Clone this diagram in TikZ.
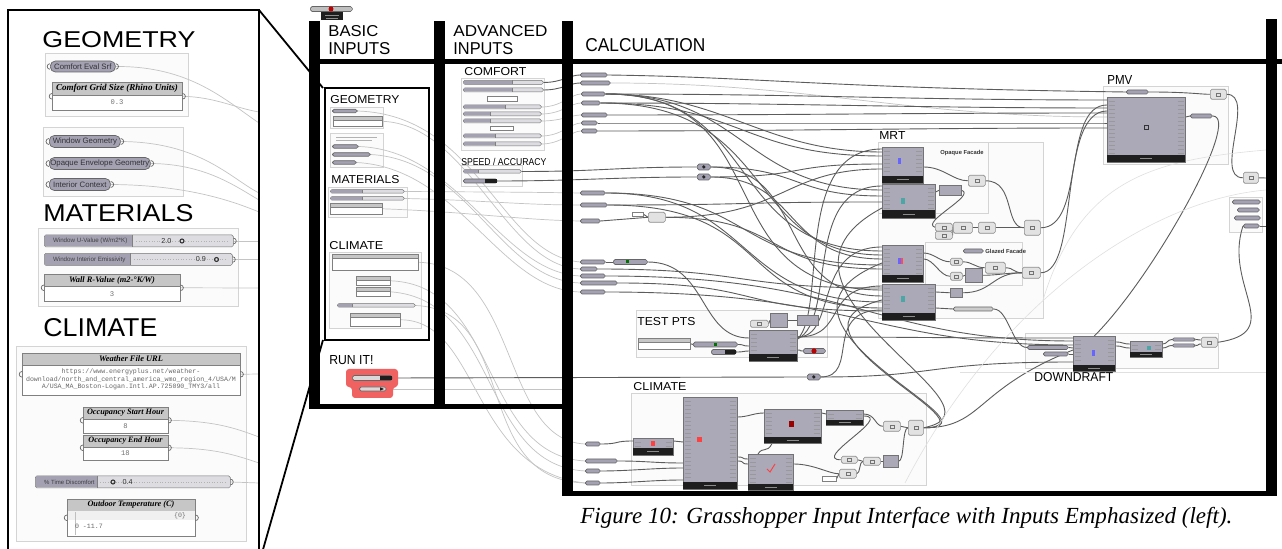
\documentclass[tikz,border=0pt]{standalone}
\usepackage{fontspec}
\setmainfont{Liberation Serif}
\setsansfont{Liberation Sans}
\setmonofont{Liberation Mono}
\usetikzlibrary{calc}
\pgfdeclarelayer{grp}
\pgfdeclarelayer{wire}
\pgfsetlayers{grp,wire,main}

\definecolor{compfill}{HTML}{ABA9B8}
\definecolor{pillfill}{HTML}{A3A1B2}
\definecolor{slidelight}{HTML}{DDDDE1}
\definecolor{panelhead}{HTML}{C6C6C6}
\definecolor{grpline}{HTML}{D4D4D4}
\definecolor{grpfill}{HTML}{FBFBFB}
\definecolor{wiredark}{HTML}{5C5C5C}
\definecolor{wirelight}{HTML}{C4C4C4}
\definecolor{runred}{HTML}{F06262}
\definecolor{footer}{HTML}{1E1E1E}
\definecolor{utilfill}{HTML}{E2E2E2}

\newcommand\fs[1]{\fontsize{#1}{#1}\selectfont}

\tikzset{
  comp/.style={draw=black!55,fill=compfill,line width=0.3pt,inner sep=0},
  util/.style={draw=black!45,fill=utilfill,line width=0.3pt,rounded corners=0.8pt,inner sep=0},
  pill/.style={draw=black!60,fill=pillfill,line width=0.3pt,rounded corners=0.9pt,inner sep=0},
  bigpill/.style={draw=black!60,fill=pillfill,line width=0.35pt,rounded corners=2.5pt,inner sep=0,font=\sffamily\fs{3.9},text=black!80},
  slide/.style={draw=black!55,fill=slidelight,line width=0.25pt,rounded corners=0.8pt,inner sep=0},
  panelbody/.style={draw=black!50,fill=white,line width=0.3pt,inner sep=0},
  group/.style={draw=grpline,fill=grpfill,line width=0.4pt},
  compline/.style={draw=black!40,line width=0.2pt},
  gripline/.style={draw=black!60,line width=0.35pt},
  wd/.style={draw=wiredark,line width=0.45pt},
  wl/.style={draw=wirelight,line width=0.35pt},
  wf/.style={draw=black!12,line width=0.3pt},
  wall/.style={fill=black},
  frame/.style={draw=black,line width=1pt},
}

% section title squeezed into a box of given width and cap height (pt)
\newcommand\hdr[6]{\node[anchor=base west,inner sep=0] (#1) at (#2,#3) {\resizebox{#4pt}{#5pt}{\sffamily #6}};}
% component: name, left, top, right, bottom, footer height
\newcommand\ghcomp[6]{%
  \node[comp,anchor=north west,minimum width={(#4-#2)*0.5pt},minimum height={(#5-#3)*0.5pt}] (#1) at (#2,#3) {};
  \fill[footer] (#2,#5-#6) rectangle (#4,#5);
  \draw[black!45,line width=0.2pt] ({(#2+#4)/2-6},#5-#6/2) -- ++(12,0);
  \pgfmathtruncatemacro\nrows{(#5-#6-#3-2)/4}%
  \ifnum\nrows>0
    \foreach \k in {1,...,\nrows}{%
      \draw[compline] (#2+1.5,#3+\k*4) -- ++(6,0);
      \draw[compline] (#4-7.5,#3+\k*4) -- ++(6,0);
    }%
  \fi
}
% plain box: name, style, left, top, right, bottom
\newcommand\ghbox[6]{%
  \node[#2,anchor=north west,minimum width={(#5-#3)*0.5pt},minimum height={(#6-#4)*0.5pt}] (#1) at (#3,#4) {};}
\newcommand\ghutil[5]{%
  \ghbox{#1}{util}{#2}{#3}{#4}{#5}
  \draw[black!55,line width=0.25pt] ($(#1.center)+(-2,-1.5)$) rectangle ($(#1.center)+(2,1.5)$);}
% parameter pill: name, left, right, mid y, height
\newcommand\ghpill[5]{%
  \node[pill,anchor=west,minimum width={(#3-#2)*0.5pt},minimum height={#5*0.5pt}] (#1) at (#2,#4) {};}
% number slider: name, left, right, label end, mid y, height
\newcommand\ghslide[6]{%
  \node[slide,anchor=west,minimum width={(#3-#2)*0.5pt},minimum height={#6*0.5pt}] (#1) at (#2,#5) {};
  \fill[pillfill] ([xshift=0.3pt,yshift=-0.3pt]#1.north west) rectangle (#4,#5+#6/2-0.6);
  \draw[black!50,line width=0.2pt] (#4,#5-#6/2) -- (#4,#5+#6/2);}
% panel with title: name, left, top, right, bottom, header bottom, title, title width (pt)
\newcommand\ghpanel[8]{%
  \node[panelbody,anchor=north west,minimum width={(#4-#2)*0.5pt},minimum height={(#5-#3)*0.5pt}] (#1) at (#2,#3) {};
  \filldraw[fill=panelhead,draw=black!50,line width=0.3pt] (#2,#3) rectangle (#4,#6);
  \node[inner sep=0] at ({(#2+#4)/2},{(#3+#6)/2}) {\resizebox{#8pt}{!}{\bfseries\itshape #7}};}
\newcommand\ghpanelmini[6]{%
  \node[panelbody,anchor=north west,minimum width={(#4-#2)*0.5pt},minimum height={(#5-#3)*0.5pt}] (#1) at (#2,#3) {};
  \filldraw[fill=panelhead,draw=black!50,line width=0.2pt] (#2,#3) rectangle (#4,#6);}
\newcommand\grips[2]{%
  \draw[gripline] ([yshift=#2]#1.west) arc[start angle=90,end angle=270,radius=#2];
  \draw[gripline] ([yshift=#2]#1.east) arc[start angle=90,end angle=-90,radius=#2];}
\newcommand\rgrip[2]{%
  \draw[gripline] ([yshift=#2]#1.east) arc[start angle=90,end angle=-90,radius=#2];}
% relay dot
\newcommand\ghrelay[3]{%
  \node[pill,anchor=west,minimum width=6.5pt,minimum height=3pt] (#1) at (#2,#3) {};
  \fill[black!85] (#1.center) circle (0.9pt);}

\begin{document}
\begin{tikzpicture}[x=0.5pt,y=-0.5pt]
\useasboundingbox (0,0) rectangle (1282,549);

% ================= page and groups =================
\begin{pgfonlayer}{grp}
\fill[white] (0,0) rectangle (1282,549);
\draw[group] (45,53) rectangle (188,116);
\draw[group] (43,127) rectangle (183,196);
\draw[group] (38,228) rectangle (238,306);
\draw[group] (16,346) rectangle (246,541);
\draw[group] (330,107) rectangle (383,128);
\draw[group] (330,133) rectangle (383,167);
\draw[group] (328,187) rectangle (407,217);
\draw[group] (329,252) rectangle (421,328);
\draw[group] (461,78) rectangle (544,150);
\draw[group] (461,165) rectangle (522,186);
\draw[group] (878,142) rectangle (1043,318);
\draw[group] (878,142) rectangle (988,213);
\draw[group] (925,242) rectangle (1022,285);
\draw[group] (1103,86) rectangle (1228,164);
\draw[group] (636,310) rectangle (827,357);
\draw[group] (631,393) rectangle (926,485);
\draw[group] (1025,333) rectangle (1218,368);
\draw[group] (1229,197) rectangle (1262,232);
\end{pgfonlayer}

% ================= emphasized inputs =================
\node[bigpill,anchor=west,minimum width=32.5pt,minimum height=5.5pt] (ces) at (50,66.5) {Comfort Eval Srf};
\grips{ces}{1.4pt}
\ghpanel{cgs}{52}{82}{182}{110}{95}{Comfort Grid Size (Rhino Units)}{61}
\node[font=\ttfamily\fs{3.6},text=black!55] at (117,102.5) {0.3};
\grips{cgs}{1.4pt}
\node[bigpill,anchor=west,minimum width=35.5pt,minimum height=6pt] (wg) at (49,141.5) {Window Geometry};
\grips{wg}{1.5pt}
\node[bigpill,anchor=west,minimum width=50.5pt,minimum height=6pt] (oeg) at (49,163.5) {Opaque Envelope Geometry};
\grips{oeg}{1.5pt}
\node[bigpill,anchor=west,minimum width=30.5pt,minimum height=6pt] (ic) at (49,184.5) {Interior Context};
\grips{ic}{1.5pt}

\ghslide{su}{44}{233}{132}{241}{12}
\node[anchor=west,font=\sffamily\fs{3.1},text=black!75] at (46,241) {Window U-Value (W/m2*K)};
\draw[black!30,densely dotted,line width=0.3pt] (136,241) -- (228,241);
\node[anchor=east,font=\sffamily\fs{3.6},text=black!80] at (178.5,241) {2.0};
\draw[black!80,line width=0.55pt] (182,241) circle (1pt);
\rgrip{su}{1.4pt}
\ghslide{se}{44}{232}{130}{259.5}{12}
\node[anchor=west,font=\sffamily\fs{3.1},text=black!75] at (46,259.5) {Window Interior Emissivity};
\draw[black!30,densely dotted,line width=0.3pt] (134,259.5) -- (227,259.5);
\node[anchor=east,font=\sffamily\fs{3.6},text=black!80] at (213,259.5) {0.9};
\draw[black!80,line width=0.55pt] (216.5,259.5) circle (1pt);
\rgrip{se}{1.4pt}
\ghpanel{wallr}{44}{274}{180}{301}{286}{Wall R-Value (m2-°K/W)}{43}
\node[font=\ttfamily\fs{3.6},text=black!55] at (112,294) {3};
\grips{wallr}{1.4pt}

\ghpanel{weather}{22}{353}{240}{395}{365}{Weather File URL}{32}
\node[font=\ttfamily\fs{3.3},text=black!60] at (131,372) {https://www.energyplus.net/weather-};
\node[font=\ttfamily\fs{3.3},text=black!60] at (131,379.5) {download/north\_and\_central\_america\_wmo\_region\_4/USA/M};
\node[font=\ttfamily\fs{3.3},text=black!60] at (131,387) {A/USA\_MA\_Boston-Logan.Intl.AP.725090\_TMY3/all};
\grips{weather}{1.4pt}
\ghpanel{occs}{83}{407}{168}{433}{419}{Occupancy Start Hour}{38.5}
\node[font=\ttfamily\fs{3.6},text=black!55] at (125.5,426.5) {8};
\grips{occs}{1.4pt}
\ghpanel{occe}{83}{435}{168}{460}{447}{Occupancy End Hour}{37}
\node[font=\ttfamily\fs{3.6},text=black!55] at (125.5,453.5) {18};
\grips{occe}{1.4pt}
\ghslide{tdis}{35}{230}{97}{482}{12}
\node[anchor=west,font=\sffamily\fs{3.0},text=black!75] at (37,482) {\% Time Discomfort};
\draw[black!30,densely dotted,line width=0.3pt] (100,482) -- (225,482);
\draw[black!80,line width=0.55pt] (113,482) circle (1pt);
\node[anchor=west,font=\sffamily\fs{3.6},text=black!80] at (115.5,482) {0.4};
\rgrip{tdis}{1.4pt}
\ghpanel{otemp}{67}{499}{195}{536}{511}{Outdoor Temperature (C)}{43.5}
\fill[black!6] (67.5,511.5) rectangle (194.5,520);
\draw[black!25,line width=0.3pt] (75,512) -- (75,535);
\node[anchor=east,font=\ttfamily\fs{3.3},text=black!55] at (193,515.5) {\{0\}};
\node[anchor=west,font=\ttfamily\fs{3.3},text=black!60] at (68,526) {0 -11.7};
\grips{otemp}{1.4pt}

% ================= basic inputs (small) =================
\ghpill{mp1}{332}{357}{111}{3.5}
\ghpanelmini{mq1}{333}{116}{382}{126}{120}
\draw[black!30,line width=0.4pt] (336,137) -- (377,137) (336,140.5) -- (372,140.5);
\ghpill{mp2}{332}{358}{146.5}{3.5}
\ghpill{mp3}{332}{370}{154.5}{3.5}
\ghpill{mp4}{332}{356}{162.5}{3.5}
\ghslide{ms1}{330}{404}{362}{191.5}{3.5}
\ghslide{ms2}{330}{404}{362}{198.5}{3.5}
\ghpanelmini{mq2}{330}{203}{382}{214}{207}
\ghpanelmini{mq3}{332}{254}{418}{270}{258}
\ghpanelmini{mq4}{356}{276}{390}{285}{280}
\ghpanelmini{mq5}{356}{287}{390}{296}{291}
\ghslide{ms3}{337}{415}{352}{305.5}{3.5}
\ghpanelmini{mq6}{350}{313}{400}{326}{317}

% run toggle
\fill[runred,rounded corners=1.5pt] (346,369) -- (398,369) -- (398,387) -- (393,387) -- (393,398) -- (352,398) -- (352,387) -- (346,387) -- cycle;
\node[pill,anchor=west,minimum width=20pt,minimum height=2.5pt,fill=black!15] (rt) at (352,378) {};
\fill[footer] (380,376.2) rectangle (392,379.8);
\node[pill,anchor=west,minimum width=13.5pt,minimum height=2pt,fill=black!15] (rb) at (359,389) {};
\fill[footer] (380,387.3) -- (384,389) -- (380,390.7) -- cycle;

% ================= advanced inputs =================
\ghslide{as1}{463}{543}{512}{82.5}{4}
\ghslide{as2}{463}{543}{512}{90}{4}
\draw[black!50,fill=white,line width=0.2pt] (487,96) rectangle (517,101);
\ghslide{as3}{463}{541}{505}{107}{4}
\ghslide{as4}{463}{541}{490}{114}{4}
\ghslide{as5}{463}{541}{490}{121}{4}
\draw[black!50,fill=white,line width=0.2pt] (490,126) rectangle (513,130);
\ghslide{as6}{463}{541}{495}{136}{4}
\ghslide{as7}{463}{541}{495}{144}{4}
\ghslide{sp1}{463}{521}{478}{171.5}{3.5}
\ghpill{sp2}{463}{497}{181}{4}
\fill[footer] (485,179.2) rectangle (497,182.8);

% ================= calculation =================
\ghpill{pA}{580}{607}{75}{4}
\ghpill{pB}{580}{610}{83}{4}
\ghpill{pC}{581}{605}{94}{4}
\ghpill{pD}{581}{600}{103}{4}
\ghpill{pE}{581}{607}{115}{4}
\ghpill{pF}{581}{597}{123}{4}
\ghpill{pG}{581}{597}{131}{4}
\ghpill{pH}{580}{605}{193}{4}
\ghpill{pI}{580}{607}{205}{4}
\ghpill{pJ}{580}{600}{221}{4}
\ghpill{pK}{580}{605}{262}{4}
\ghpill{pL}{580}{597}{269}{4}
\ghpill{pM}{580}{605}{276}{4}
\ghpill{pN}{580}{617}{283}{4}
\ghpill{pO}{580}{605}{292}{4}
\ghpill{pP}{585}{600}{444}{4}
\ghpill{pQ}{585}{617}{461}{4}
\ghpill{pR}{585}{600}{471}{4}
\ghpill{pS}{585}{600}{483}{4}

\ghrelay{c1}{697}{167}
\ghrelay{c2}{697}{177}
\ghrelay{c3}{807}{377}

\ghbox{jn}{panelbody}{632}{212}{643}{216}
\ghbox{jc}{util}{648}{212}{665}{222}
\ghpill{kc}{613}{647}{262}{5}
\fill[green!45!black] (626,260.5) rectangle (629,263.5);

% MRT
\ghcomp{mrt1}{882}{147}{923}{183}{7}
\ghcomp{mrt2}{882}{184}{935}{218}{8}
\ghcomp{mrt3}{882}{245}{923}{282}{7}
\ghcomp{mrt4}{882}{284}{935}{320}{7}
\fill[blue!60] (898,158) rectangle (901,164);
\fill[teal!70] (901,198) rectangle (905,204);
\fill[blue!60] (898,258) rectangle (901,264);
\fill[red!70] (901,258) rectangle (903,264);
\fill[teal!70] (901,296) rectangle (905,302);
\ghbox{u1}{comp}{939}{185}{961}{195}
\ghutil{u2}{968}{175}{985}{186}
\ghutil{u3}{935}{223}{952}{231}
\ghutil{u3b}{935}{231}{952}{239}
\ghutil{u4}{953}{222}{972}{233}
\ghutil{u5}{978}{222}{995}{233}
\ghutil{u6}{1024}{220}{1040}{235}
\ghutil{u7}{950}{258}{962}{265}
\ghutil{u8}{950}{272}{962}{280}
\ghbox{u9}{comp}{965}{268}{982}{282}
\ghutil{u10}{985}{262}{1005}{273}
\ghutil{u11}{1022}{267}{1040}{278}
\ghbox{u12}{comp}{950}{288}{962}{297}
\ghpill{gl}{963}{983}{251}{4}
\node[pill,anchor=west,minimum width=20pt,minimum height=2pt,fill=black!20] (gp) at (953,309) {};

% PMV
\ghcomp{pmv}{1107}{97}{1185}{162}{7}
\draw[black!80,line width=0.4pt] (1144,125) rectangle (1148,129);
\ghpill{pv1}{1126}{1148}{92}{4}
\ghutil{pv2}{1210}{89}{1226}{99}
\ghpill{pv3}{1190}{1212}{116}{4}
\ghutil{pv4}{1243}{172}{1258}{183}
\ghpill{pg1}{1232}{1260}{202}{4}
\ghpill{pg2}{1237}{1259}{210}{4}
\ghpill{pg3}{1234}{1260}{218}{4}
\ghpill{pg4}{1243}{1259}{226}{4}

% test points
\ghpanelmini{tp1}{638}{338}{690}{349}{342}
\ghpill{tp2}{693}{737}{344.5}{5}
\fill[green!45!black] (714,343) rectangle (717,346);
\ghcomp{tp3}{749}{330}{797}{361}{7}
\ghutil{tp4}{750}{320}{768}{327}
\ghbox{tp5}{comp}{770}{313}{787}{327}
\ghbox{tp6}{comp}{797}{315}{818}{325}
\ghpill{tp7}{711}{736}{352}{5}
\fill[footer] (725,350.2) rectangle (736,353.8);
\ghpill{tp8}{803}{825}{351}{5}
\fill[red!75!black] (814,351) circle (1.3pt);

% climate
\ghcomp{clA}{633}{438}{673}{455}{7}
\ghcomp{clB}{683}{397}{737}{489}{7}
\ghcomp{clC}{764}{409}{821}{443}{6}
\ghcomp{clD}{826}{410}{863}{425}{5}
\ghcomp{clE}{748}{454}{793}{490}{6}
\fill[red!75] (651,441) rectangle (655,446);
\fill[red!75] (697,437) rectangle (702,442);
\fill[red!60!black] (789,421) rectangle (794,427);
\draw[red!75,line width=0.5pt] (767,469) -- (770,472) -- (775,464);
\ghutil{s1}{883}{421}{900}{431}
\ghutil{s2}{908}{420}{923}{435}
\ghutil{s3}{841}{456}{857}{463}
\ghutil{s4}{863}{457}{880}{465}
\ghbox{s5}{comp}{883}{455}{898}{467}
\ghutil{s6}{839}{469}{856}{478}
\ghbox{s7}{panelbody}{822}{476}{836}{481}

% downdraft
\ghcomp{dd1}{1073}{336}{1115}{371}{6}
\ghcomp{dd2}{1130}{341}{1162}{357}{5}
\fill[blue!60] (1092,350) rectangle (1095,356);
\fill[teal!70] (1147,346) rectangle (1151,350);
\node[pill,anchor=west,minimum width=11.5pt,minimum height=1.6pt] (ddp1) at (1172,339.5) {};
\node[pill,anchor=west,minimum width=11.5pt,minimum height=1.6pt] (ddp2) at (1172,345.5) {};
\ghutil{ddu}{1201}{337}{1217}{347}
\ghpill{ddl1}{1027}{1068}{347.5}{4}
\ghpill{ddl2}{1043}{1068}{354}{4}

% free wire ends
\coordinate (e1) at (259,123);
\coordinate (e2) at (259,112);
\coordinate (e3) at (259,193);
\coordinate (e4) at (259,200);
\coordinate (e5) at (259,212);
\coordinate (e6) at (259,241);
\coordinate (e7) at (259,259.5);
\coordinate (e8) at (259,288);
\coordinate (e9) at (259,374);
\coordinate (e10) at (259,437);
\coordinate (e11) at (259,463);
\coordinate (e12) at (259,483);
\coordinate (rbend) at (562,389);
\coordinate (wallA) at (1266,178);
\coordinate (wallB) at (1266,226);
\coordinate (f1) at (905,483);
\coordinate (f2) at (1266,190);
\coordinate (f3) at (1043,300);
\coordinate (f4) at (1266,150);
\coordinate (f5) at (960,372);
\coordinate (f6) at (1266,372);

% ================= wires =================
\begin{pgfonlayer}{wire}
% emphasized panel
\draw[wl] (ces.east) .. controls (190,66) and (225,100) .. (e1);
\draw[wl] (cgs.east) .. controls (215,97) and (235,108) .. (e2);
\draw[wl] (wg.east) .. controls (200,142) and (230,178) .. (e3);
\draw[wl] (oeg.east) .. controls (205,164) and (235,186) .. (e4);
\draw[wl] (ic.east) .. controls (185,185) and (230,200) .. (e5);
\draw[wl] (su.east) -- (e6);
\draw[wl] (se.east) -- (e7);
\draw[wl] (wallr.east) -- (e8);
\draw[wl] (weather.east) -- (e9);
\draw[wl] (occs.east) .. controls (215,421) and (235,428) .. (e10);
\draw[wl] (occe.east) .. controls (215,448) and (235,455) .. (e11);
\draw[wl] (tdis.east) -- (e12);
% basic inputs into calculation
\draw[wl] (mp1.east) .. controls (480,115) and (500,255) .. (pK.west);
\draw[wl] (mq1.east) .. controls (470,125) and (505,266) .. (pL.west);
\draw[wl] (mp2.east) .. controls (460,150) and (500,272) .. (pM.west);
\draw[wl] (mp3.east) .. controls (470,160) and (500,280) .. (pN.west);
\draw[wl] (mp4.east) .. controls (460,168) and (500,290) .. (pO.west);
\draw[wl] (ms1.east) .. controls (480,192) and (520,192) .. (pH.west);
\draw[wl] (ms2.east) .. controls (480,200) and (520,205) .. (pI.west);
\draw[wl] (mq2.east) .. controls (470,212) and (520,220) .. (pJ.west);
\draw[wl] (mq3.east) .. controls (520,265) and (500,440) .. (pP.west);
\draw[wl] (mq4.east) .. controls (500,285) and (480,455) .. (pQ.west);
\draw[wl] (mq5.east) .. controls (500,300) and (480,465) .. (pR.west);
\draw[wl] (ms3.east) .. controls (520,310) and (470,480) .. (pS.west);
\draw[wl] (mq6.east) .. controls (480,320) and (470,470) .. (pS.west);
\draw[wl] (rb.east) -- (rbend);
\draw[wd] (rt.east) -- (c3.west);
% advanced inputs
\draw[wd] (as1.east) .. controls +(18,0) and +(-10,0) .. (pA.west);
\draw[wd] (as2.east) .. controls +(18,0) and +(-10,0) .. (pB.west);
\draw[wl] (as3.east) .. controls +(20,0) and +(-10,0) .. (pC.west);
\draw[wl] (as4.east) .. controls +(20,0) and +(-10,0) .. (pD.west);
\draw[wl] (as5.east) .. controls +(20,0) and +(-10,0) .. (pE.west);
\draw[wl] (as6.east) .. controls +(20,0) and +(-10,0) .. (pF.west);
\draw[wl] (as7.east) .. controls +(20,0) and +(-10,0) .. (pG.west);
\draw[wd] (sp1.east) .. controls +(80,0) and +(-80,0) .. (c1.west);
\draw[wd] (sp2.east) .. controls +(80,0) and +(-80,0) .. (c2.west);
% comfort parameters into PMV
\draw[wd] (pA.east) .. controls +(150,2) and +(-300,-4) .. (pv1.west);
\draw[wl] (pB.east) .. controls +(200,0) and +(-200,0) .. ($(pmv.north west)+(0,20)$);
\draw[wd] (pC.east) .. controls +(200,0) and +(-200,0) .. ($(pmv.north west)+(0,3)$);
\draw[wd] (pD.east) .. controls +(200,0) and +(-200,0) .. ($(pmv.north west)+(0,11)$);
\draw[wd] (pE.east) .. controls +(200,0) and +(-200,0) .. ($(pmv.north west)+(0,16)$);
\draw[wd] (pF.east) .. controls +(200,0) and +(-200,0) .. ($(pmv.north west)+(0,26)$);
\draw[wd] (pG.east) .. controls +(200,0) and +(-200,0) .. ($(pmv.north west)+(0,31)$);
% into MRT
\draw[wd] (pC.east) .. controls +(120,0) and +(-120,0) .. ($(mrt1.north west)+(0,5)$);
\draw[wd] (pC.east) .. controls +(140,0) and +(-140,0) .. ($(mrt2.north west)+(0,6)$);
\draw[wd] (pC.east) .. controls +(160,0) and +(-160,0) .. ($(mrt3.north west)+(0,6)$);
\draw[wd] (pC.east) .. controls +(180,0) and +(-180,0) .. ($(mrt4.north west)+(0,6)$);
\draw[wd] (pD.east) .. controls +(140,0) and +(-140,0) .. ($(mrt1.north west)+(0,9)$);
\draw[wd] (pD.east) .. controls +(180,0) and +(-140,0) .. ($(mrt3.north west)+(0,10)$);
\draw[wd] (c1.east) .. controls +(90,0) and +(-90,0) .. ($(mrt2.north west)+(0,12)$);
\draw[wd] (c1.east) .. controls +(100,0) and +(-110,0) .. ($(mrt4.north west)+(0,12)$);
\draw[wd] (c2.east) .. controls +(100,0) and +(-100,0) .. ($(mrt1.north west)+(0,17)$);
\draw[wd] (c2.east) .. controls +(90,0) and +(-100,0) .. ($(mrt3.north west)+(0,14)$);
\draw[wd] (pH.east) .. controls +(150,0) and +(-150,0) .. ($(mrt3.north west)+(0,20)$);
\draw[wd] (pH.east) .. controls +(150,0) and +(-150,0) .. ($(mrt4.north west)+(0,18)$);
\draw[wd] (pI.east) .. controls +(150,0) and +(-150,0) .. ($(mrt2.north west)+(0,18)$);
\draw[wd] (pI.east) .. controls +(170,0) and +(-150,0) .. ($(mrt4.north west)+(0,24)$);
\draw[wd] (pJ.east) -- (jc.west);
\draw[wd] (jn.east) -- (jc.west);
\draw[wd] (jc.east) .. controls +(120,0) and +(-100,0) .. ($(mrt1.north west)+(0,22)$);
\draw[wd] (jc.east) .. controls +(120,0) and +(-120,0) .. ($(mrt3.north west)+(0,24)$);
\draw[wd] (pK.east) -- (kc.west);
\draw[wd] (kc.east) .. controls +(60,0) and +(-50,0) .. ($(tp3.north west)+(0,8)$);
\draw[wd] (pL.east) .. controls +(150,0) and +(-150,0) .. ($(mrt4.north west)+(0,4)$);
\draw[wd] (pM.east) .. controls +(250,0) and +(-200,0) .. ($(dd1.north west)+(0,5)$);
\draw[wd] (pN.east) .. controls +(150,0) and +(-150,0) .. ($(mrt4.north west)+(0,27)$);
\draw[wd] (pO.east) .. controls +(250,0) and +(-200,0) .. ($(dd1.north west)+(0,9)$);
% test points
\draw[wd] (tp1.east) -- (tp2.west);
\draw[wd] (tp2.east) .. controls +(8,0) and +(-8,0) .. ($(tp3.north west)+(0,16)$);
\draw[wd] (tp7.east) .. controls +(8,0) and +(-6,0) .. ($(tp3.north west)+(0,21)$);
\draw[wd] (tp4.east) -- (tp5.west);
\draw[wd] (tp5.east) -- (tp6.west);
\draw[wd] ($(tp3.north east)+(0,20)$) .. controls +(5,0) and +(-5,0) .. (tp8.west);
\draw[wd] ($(tp3.north east)+(0,7)$) .. controls +(120,0) and +(-150,0) .. ($(dd1.north west)+(0,2)$);
\draw[wd] ($(tp3.north east)+(0,7)$) .. controls +(50,0) and +(-60,0) .. ($(mrt4.north west)+(0,2)$);
\draw[wd] ($(tp3.north east)+(0,7)$) .. controls +(40,0) and +(-70,0) .. ($(mrt3.north west)+(0,2)$);
\draw[wd] ($(tp3.north east)+(0,9)$) .. controls +(40,-20) and +(-80,0) .. ($(mrt2.north west)+(0,2)$);
\draw[wd] ($(tp3.north east)+(0,9)$) .. controls +(30,-30) and +(-90,0) .. ($(mrt1.north west)+(0,2)$);
\draw[wd] (c3.east) .. controls +(120,0) and +(-150,0) .. ($(dd1.north west)+(0,26)$);
\draw[wd] (c3.east) .. controls +(40,0) and +(-60,0) .. ($(mrt4.north west)+(0,26)$);
% climate
\draw[wd] (pP.east) .. controls +(20,0) and +(-20,0) .. ($(clA.north west)+(0,3)$);
\draw[wd] (pQ.east) .. controls +(30,0) and +(-30,0) .. ($(clB.north west)+(0,66)$);
\draw[wd] (pR.east) .. controls +(30,0) and +(-30,0) .. ($(clB.north west)+(0,71)$);
\draw[wd] (pS.east) .. controls +(30,0) and +(-30,0) .. ($(clB.north west)+(0,83)$);
\draw[wd] ($(clA.north east)+(0,3)$) .. controls +(5,0) and +(-5,0) .. ($(clB.north west)+(0,45)$);
\draw[wd] ($(clB.north east)+(0,20)$) .. controls +(10,0) and +(-10,0) .. ($(clC.north west)+(0,4)$);
\draw[wd] ($(clB.north east)+(0,60)$) .. controls +(8,0) and +(-8,0) .. ($(clE.north west)+(0,5)$);
\draw[wd] ($(clB.north east)+(0,64)$) .. controls +(8,0) and +(-8,0) .. ($(clE.north west)+(0,10)$);
\draw[wd] ($(clC.north east)+(0,4)$) .. controls +(3,0) and +(-3,0) .. ($(clD.north west)+(0,4)$);
\draw[wd] ($(clC.south west)+(8,0)$) .. controls +(-5,10) and +(5,-8) .. ($(clE.north west)+(10,0)$);
\draw[wd] ($(clD.north east)+(0,4)$) .. controls +(12,0) and +(-8,0) .. (s1.west);
\draw[wd] ($(clD.north east)+(0,6)$) .. controls +(30,0) and +(-30,0) .. (s3.west);
\draw[wd] ($(clE.north east)+(0,10)$) .. controls +(20,0) and +(-10,0) .. (s6.west);
\draw[wd] (s7.east) -- (s6.west);
\draw[wd] (s3.east) -- (s4.west);
\draw[wd] (s6.east) .. controls +(4,0) and +(-4,0) .. (s4.west);
\draw[wd] (s4.east) -- (s5.west);
\draw[wd] (s1.east) -- (s2.west);
\draw[wd] (s5.east) .. controls +(6,0) and +(-6,0) .. (s2.west);
\draw[wd] (s2.east) .. controls +(80,0) and +(-120,30) .. ($(mrt4.north west)+(0,16)$);
\draw[wd] (s2.east) .. controls +(90,0) and +(-150,60) .. ($(mrt3.north west)+(0,18)$);
\draw[wd] (s2.east) .. controls +(60,0) and +(-100,40) .. ($(dd1.north west)+(0,14)$);
\draw[wd] (s2.east) .. controls +(100,-20) and +(-150,80) .. ($(mrt2.north west)+(0,24)$);
% MRT outputs
\draw[wd] ($(mrt1.north east)+(0,20)$) .. controls +(20,0) and +(-15,0) .. (u2.west);
\draw[wd] ($(mrt2.north east)+(0,8)$) -- (u1.west);
\draw[wd] (u1.east) .. controls +(15,5) and +(-15,-5) .. (u3.west);
\draw[wd] (u3b.east) -- (u4.west);
\draw[wd] (u3.east) -- (u4.west);
\draw[wd] (u4.east) -- (u5.west);
\draw[wd] (u5.east) .. controls +(15,0) and +(-15,0) .. (u6.west);
\draw[wd] (u2.east) .. controls +(30,0) and +(-20,0) .. (u6.west);
\draw[wd] (u6.east) .. controls +(45,0) and +(-45,0) .. ($(pmv.north west)+(0,8)$);
\draw[wd] ($(mrt3.north east)+(0,8)$) .. controls +(10,0) and +(-10,0) .. (u7.west);
\draw[wd] ($(mrt3.north east)+(0,14)$) .. controls +(10,0) and +(-10,0) .. (u8.west);
\draw[wd] ($(mrt4.north east)+(0,8)$) -- (u12.west);
\draw[wd] (u7.east) .. controls +(10,0) and +(-10,0) .. (u10.west);
\draw[wd] (u8.east) -- (u9.west);
\draw[wd] (u9.east) .. controls +(15,0) and +(-15,0) .. (u11.west);
\draw[wd] (u10.east) .. controls +(8,0) and +(-8,0) .. (u11.west);
\draw[wd] (u12.east) .. controls +(30,0) and +(-30,0) .. (u11.west);
\draw[wd] (u11.east) .. controls +(40,0) and +(-50,0) .. ($(pmv.north west)+(0,14)$);
\draw[wd] ($(mrt4.north east)+(0,24)$) .. controls +(8,0) and +(-8,0) .. (gp.west);
\draw[wd] (gp.east) .. controls +(15,0) and +(-15,0) .. (ddl1.west);
% downdraft
\draw[wd] (ddl1.east) -- ($(dd1.north west)+(0,12)$);
\draw[wd] (ddl2.east) -- ($(dd1.north west)+(0,18)$);
\draw[wd] ($(dd1.north east)+(0,6)$) .. controls +(8,0) and +(-8,0) .. ($(dd2.north west)+(0,3)$);
\draw[wd] ($(dd1.north east)+(0,10)$) .. controls +(8,0) and +(-8,0) .. ($(dd2.north west)+(0,7)$);
\draw[wd] ($(dd2.north east)+(0,3)$) .. controls +(5,0) and +(-5,0) .. (ddp1.west);
\draw[wd] ($(dd2.north east)+(0,7)$) .. controls +(5,0) and +(-5,0) .. (ddp2.west);
\draw[wd] (ddp1.east) .. controls +(4,0) and +(-4,0) .. ($(ddu.north west)+(0,3)$);
\draw[wd] (ddp2.east) .. controls +(4,0) and +(-4,0) .. ($(ddu.north west)+(0,7)$);
\draw[wd] (ddu.east) .. controls +(70,-10) and +(-20,60) .. (pg4.west);
% PMV outputs
\draw[wd] (pv1.east) .. controls +(40,0) and +(-10,0) .. (pv2.west);
\draw[wd] ($(pmv.north east)+(0,20)$) -- (pv3.west);
\draw[wd] (pv2.east) .. controls +(30,0) and +(-30,0) .. (pv4.west);
\draw[wd] (pv3.east) .. controls +(30,0) and +(60,-60) .. (dd1.north);
\draw[wd] (pv4.east) -- (wallA);
\draw[wd] (pg4.east) -- (wallB);
% faint background wires
\draw[wf] (f1) .. controls (1000,300) and (1150,200) .. (f2);
\draw[wf] (f3) .. controls (1080,180) and (1150,160) .. (f4);
\draw[wf] (f5) -- (f6);
\end{pgfonlayer}

% ================= frames and bars =================
\draw[frame] (8,560) -- (8,10) -- (259,10) -- (259,560);
\draw[black,line width=0.9pt] (259,10) -- (323,88);
\draw[black,line width=0.9pt] (260,560) -- (323,340);
\draw[black,line width=1pt] (325,88) rectangle (429,340);
\fill[wall] (309,21) rectangle (320,409);
\fill[wall] (434,21) rectangle (445,409);
\fill[wall] (562,21) rectangle (573,496);
\fill[wall] (1266,19) rectangle (1277,496);
\fill[wall] (309,59) rectangle (1282,64);
\fill[wall] (309,404) rectangle (573,409);
\fill[wall] (562,491) rectangle (1277,496);

% top toggle
\node[pill,anchor=west,minimum width=21pt,minimum height=2.5pt,fill=black!25] (tg) at (310,9) {};
\fill[red!75!black] (331,9) circle (1.25pt);
\fill[footer] (321,12) rectangle (343,20);
\draw[black!45,line width=0.3pt] (325,15) -- (339,15) (326,18) -- (338,18);

% ================= titles =================
\hdr{hGeo}{42}{48}{76.5}{8}{GEOMETRY}
\hdr{hMat}{43}{222}{75}{8.5}{MATERIALS}
\hdr{hCli}{43}{337}{57}{9}{CLIMATE}
\hdr{hBasic}{328}{37}{25}{5.5}{BASIC}
\hdr{hBasicB}{328}{55}{31}{6}{INPUTS}
\hdr{hAdv}{453}{37}{47}{5.5}{ADVANCED}
\hdr{hAdvB}{453}{55}{30}{6}{INPUTS}
\hdr{hCalc}{585}{52}{60}{6.5}{CALCULATION}
\hdr{hComf}{464}{76}{31}{4}{COMFORT}
\hdr{hGeoS}{330}{104}{34.5}{4}{GEOMETRY}
\hdr{hMatS}{331}{184}{34}{4}{MATERIALS}
\hdr{hCliS}{329}{250}{27}{4}{CLIMATE}
\hdr{hSpeed}{461}{166}{42.5}{3.6}{SPEED / ACCURACY}
\hdr{hRun}{329}{365}{22}{4.5}{RUN IT!}
\hdr{hMrt}{879}{140}{13}{4}{MRT}
\hdr{hPmv}{1107}{85}{12.5}{4.5}{PMV}
\hdr{hTest}{637}{326}{29}{4}{TEST PTS}
\hdr{hCliC}{633}{391}{26.5}{4}{CLIMATE}
\hdr{hDown}{1034}{382}{39.5}{4.5}{DOWNDRAFT}
\node[anchor=base west,inner sep=0,font=\sffamily\bfseries\fs{2.9},text=black!80] (hOpq) at (940,155) {Opaque Facade};
\node[anchor=base west,inner sep=0,font=\sffamily\bfseries\fs{2.9},text=black!80] (hGlz) at (985,254) {Glazed Facade};

\node[anchor=base west,inner sep=0] (caption) at (580,524) {\resizebox{326pt}{!}{\itshape Figure 10: Grasshopper Input Interface with Inputs Emphasized (left).}};
\end{tikzpicture}
\end{document}
